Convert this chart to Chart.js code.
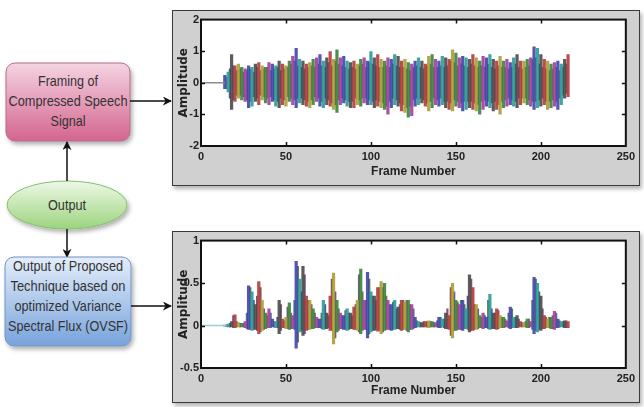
<!DOCTYPE html>
<html>
<head>
<meta charset="utf-8">
<script src="https://cdn.jsdelivr.net/npm/chart.js@4.4.0/dist/chart.umd.min.js"></script>
<style>
body { margin: 0; background: #fff; width: 644px; height: 407px; overflow: hidden; position: relative; }
.panel { position: absolute; background: #d0d0d0; border: 1px solid #3a3a3a; box-sizing: border-box; box-shadow: 2px 3px 4px rgba(0,0,0,0.3); }
.panel canvas { position: absolute; left: 0; top: 0; }
svg { position: absolute; left: 0; top: 0; }
svg text { font-family: "Liberation Sans Narrow", "Liberation Sans", Arial, sans-serif; font-size: 15px; fill: #333; text-anchor: middle; }
</style>
</head>
<body>

<svg width="172" height="407" viewBox="0 0 172 407">
  <defs>
    <linearGradient id="gPink" x1="0" y1="0" x2="0" y2="1">
      <stop offset="0" stop-color="#f5d4e2"/><stop offset="1" stop-color="#d4658e"/>
    </linearGradient>
    <linearGradient id="gGreen" x1="0" y1="0" x2="0" y2="1">
      <stop offset="0" stop-color="#eef8e6"/><stop offset="1" stop-color="#9cd47e"/>
    </linearGradient>
    <linearGradient id="gBlue" x1="0" y1="0" x2="0" y2="1">
      <stop offset="0" stop-color="#e4eefa"/><stop offset="1" stop-color="#78a3dc"/>
    </linearGradient>
    <filter id="sh" x="-10%" y="-10%" width="130%" height="140%">
      <feDropShadow dx="2" dy="3" stdDeviation="2" flood-color="#000" flood-opacity="0.3"/>
    </filter>
    <marker id="ah" viewBox="0 0 10 10" refX="9" refY="5" markerWidth="6" markerHeight="6" orient="auto">
      <path d="M0,0 L10,5 L0,10 L3,5 z" fill="#111"/>
    </marker>
  </defs>

  <rect x="6" y="63" width="124" height="78" rx="9" fill="url(#gPink)" stroke="#b26a8a" filter="url(#sh)"/>
  <text x="68" y="86" textLength="60" lengthAdjust="spacingAndGlyphs">Framing of</text>
  <text x="68" y="106" textLength="119" lengthAdjust="spacingAndGlyphs">Compressed Speech</text>
  <text x="68" y="126" textLength="35" lengthAdjust="spacingAndGlyphs">Signal</text>
  <line x1="130" y1="101" x2="171" y2="101" stroke="#111" stroke-width="1.5" marker-end="url(#ah)"/>

  <ellipse cx="67" cy="205" rx="60" ry="24" fill="url(#gGreen)" stroke="#86bf6e" filter="url(#sh)"/>
  <text x="67" y="210" textLength="38" lengthAdjust="spacingAndGlyphs">Output</text>
  <line x1="67" y1="181" x2="67" y2="142" stroke="#111" stroke-width="1.5" marker-end="url(#ah)"/>
  <line x1="67" y1="229" x2="67" y2="257" stroke="#111" stroke-width="1.5" marker-end="url(#ah)"/>

  <rect x="5" y="257" width="126" height="89" rx="9" fill="url(#gBlue)" stroke="#6f93c6" filter="url(#sh)"/>
  <text x="68" y="271" textLength="110" lengthAdjust="spacingAndGlyphs">Output of Proposed</text>
  <text x="68" y="291" textLength="115" lengthAdjust="spacingAndGlyphs">Technique based on</text>
  <text x="68" y="311" textLength="107" lengthAdjust="spacingAndGlyphs">optimized Variance</text>
  <text x="68" y="331" textLength="120" lengthAdjust="spacingAndGlyphs">Spectral Flux (OVSF)</text>
  <line x1="131" y1="306" x2="171" y2="306" stroke="#111" stroke-width="1.5" marker-end="url(#ah)"/>
</svg>

<div class="panel" style="left:172px;top:10px;width:468px;height:176px"><canvas id="c1" width="466" height="174"></canvas></div>
<div class="panel" style="left:172px;top:231px;width:468px;height:172px"><canvas id="c2" width="466" height="170"></canvas></div>

<script>
// envelopes read at even frames, denser inner part at odd frames
const evenFrames = [];
for (let f = 14; f <= 216; f += 2) evenFrames.push(f);
const oddFrames = [];
for (let f = 15; f <= 215; f += 2) oddFrames.push(f);

// compressed speech frames: outer envelope (even frames)
const topUpper = [0.25,0.35,0.9,0.55,0.6,0.5,0.45,0.55,0.5,0.6,0.65,0.55,0.5,0.65,0.6,0.55,0.7,0.6,0.55,0.7,
  0.85,1.1,0.75,0.7,0.6,0.65,0.75,0.8,0.9,0.7,0.8,1.0,0.75,1.05,0.8,0.85,0.7,0.65,0.7,0.6,
  0.75,0.8,0.7,1.0,0.8,0.9,0.75,0.7,0.8,0.75,0.9,0.85,0.7,0.75,0.65,0.6,0.7,0.8,0.7,0.6,
  0.85,0.9,0.75,0.7,0.85,0.8,0.75,1.05,0.95,0.8,0.85,0.8,0.75,0.9,0.8,0.7,0.85,0.8,0.9,0.75,
  0.7,0.85,0.7,0.75,0.65,0.8,0.9,0.7,0.7,0.75,0.8,1.15,1.1,0.9,0.75,0.7,0.6,0.65,0.7,0.6,
  0.75,0.9];
const topLower = [-0.2,-0.3,-0.85,-0.6,-0.5,-0.55,-0.6,-0.8,-0.75,-0.6,-0.7,-0.55,-0.65,-0.7,-0.6,-0.75,-0.8,-0.7,-0.75,-0.6,
  -0.7,-0.8,-0.65,-0.7,-0.75,-0.8,-0.7,-0.6,-0.75,-0.8,-0.7,-0.75,-0.85,-0.95,-0.7,-0.65,-0.75,-0.8,-0.8,-0.7,
  -0.75,-0.65,-0.7,-0.7,-0.8,-0.75,-0.8,-0.85,-1.0,-0.8,-0.7,-0.75,-0.9,-0.95,-1.1,-1.05,-0.75,-0.7,-0.65,-0.75,
  -0.9,-0.8,-0.7,-0.75,-0.7,-0.8,-0.85,-0.9,-0.75,-0.8,-0.9,-0.85,-0.8,-0.85,-0.9,-1.0,-0.85,-0.75,-0.8,-0.9,
  -0.85,-1.0,-0.8,-0.75,-0.7,-0.75,-0.8,-0.7,-0.65,-0.7,-0.75,-0.85,-0.8,-0.75,-0.7,-0.85,-0.8,-0.75,-0.85,-0.7,
  -0.5,-0.45];
// compressed speech frames: dense inner band (odd frames)
const topCoreUpper = [0.2,0.45,0.55,0.4,0.45,0.35,0.4,0.45,0.35,0.5,0.4,0.45,0.5,0.4,0.45,0.5,0.4,0.45,0.5,0.6,
  0.7,0.55,0.5,0.45,0.5,0.55,0.5,0.6,0.55,0.5,0.65,0.55,0.7,0.6,0.55,0.5,0.45,0.5,0.45,0.55,
  0.6,0.5,0.65,0.6,0.55,0.5,0.5,0.55,0.5,0.6,0.55,0.5,0.5,0.45,0.4,0.5,0.55,0.5,0.45,0.55,
  0.6,0.5,0.5,0.55,0.5,0.55,0.7,0.65,0.55,0.6,0.55,0.5,0.6,0.55,0.5,0.55,0.5,0.6,0.5,0.45,
  0.55,0.5,0.5,0.45,0.5,0.6,0.5,0.45,0.5,0.55,0.75,0.8,0.6,0.5,0.45,0.4,0.45,0.5,0.4,0.5,
  0.6];
const topCoreLower = [-0.2,-0.5,-0.55,-0.4,-0.4,-0.45,-0.55,-0.6,-0.45,-0.5,-0.4,-0.45,-0.5,-0.45,-0.55,-0.6,-0.5,-0.55,-0.45,-0.5,
  -0.55,-0.5,-0.5,-0.55,-0.6,-0.55,-0.45,-0.5,-0.6,-0.5,-0.55,-0.65,-0.7,-0.55,-0.5,-0.55,-0.6,-0.6,-0.5,-0.55,
  -0.5,-0.5,-0.55,-0.6,-0.55,-0.6,-0.65,-0.75,-0.6,-0.5,-0.55,-0.65,-0.7,-0.8,-0.75,-0.55,-0.5,-0.5,-0.55,-0.65,
  -0.6,-0.5,-0.55,-0.5,-0.6,-0.6,-0.65,-0.55,-0.6,-0.65,-0.6,-0.6,-0.6,-0.65,-0.7,-0.6,-0.55,-0.6,-0.65,-0.6,
  -0.7,-0.6,-0.55,-0.5,-0.55,-0.6,-0.5,-0.5,-0.5,-0.55,-0.6,-0.6,-0.55,-0.5,-0.6,-0.6,-0.55,-0.6,-0.5,-0.4,
  -0.35];

// OVSF output: outer envelope (even frames)
const botUpper = [0.01,0.02,0.05,0.13,0.04,0.03,0.05,0.47,0.4,0.25,0.52,0.3,0.15,0.2,0.08,0.05,0.3,0.08,0.1,0.27,
  0.12,0.76,0.55,0.7,0.35,0.3,0.2,0.1,0.08,0.3,0.15,0.35,0.62,0.3,0.15,0.12,0.2,0.15,0.22,0.3,
  0.67,0.3,0.63,0.4,0.35,0.45,0.52,0.5,0.3,0.25,0.3,0.22,0.3,0.28,0.3,0.25,0.1,0.05,0.04,0.05,
  0.06,0.05,0.04,0.1,0.08,0.15,0.12,0.5,0.3,0.25,0.3,0.2,0.6,0.45,0.25,0.12,0.15,0.1,0.37,0.15,
  0.2,0.12,0.1,0.06,0.22,0.1,0.12,0.05,0.04,0.08,0.05,0.57,0.5,0.35,0.12,0.08,0.1,0.17,0.08,0.05,
  0.06,0.05];
const botLower = [-0.01,-0.02,-0.02,-0.03,-0.02,-0.02,-0.03,-0.05,-0.06,-0.05,-0.1,-0.06,-0.04,-0.03,-0.02,-0.03,-0.1,-0.03,-0.04,-0.05,
  -0.04,-0.27,-0.08,-0.12,-0.06,-0.05,-0.04,-0.03,-0.03,-0.05,-0.04,-0.06,-0.22,-0.08,-0.04,-0.05,-0.06,-0.04,-0.05,-0.06,
  -0.1,-0.05,-0.15,-0.08,-0.06,-0.07,-0.1,-0.06,-0.05,-0.06,-0.05,-0.04,-0.06,-0.05,-0.08,-0.05,-0.03,-0.02,-0.02,-0.02,
  -0.03,-0.02,-0.02,-0.03,-0.02,-0.04,-0.05,-0.15,-0.06,-0.05,-0.06,-0.04,-0.08,-0.06,-0.05,-0.03,-0.04,-0.03,-0.05,-0.04,
  -0.05,-0.03,-0.03,-0.02,-0.04,-0.03,-0.03,-0.02,-0.02,-0.03,-0.02,-0.1,-0.08,-0.06,-0.04,-0.03,-0.04,-0.05,-0.03,-0.02,
  -0.03,-0.03];
// OVSF output: inner part (odd frames)
const botCoreUpper = [0.01,0.03,0.12,0.05,0.03,0.03,0.15,0.45,0.3,0.35,0.45,0.2,0.12,0.15,0.05,0.1,0.25,0.06,0.22,0.15,
  0.3,0.7,0.4,0.6,0.3,0.25,0.15,0.08,0.15,0.25,0.12,0.55,0.4,0.2,0.12,0.18,0.15,0.12,0.25,0.6,
  0.4,0.3,0.55,0.35,0.3,0.45,0.45,0.35,0.25,0.28,0.2,0.25,0.3,0.3,0.25,0.2,0.06,0.04,0.05,0.05,
  0.05,0.04,0.06,0.1,0.08,0.2,0.45,0.4,0.28,0.3,0.25,0.35,0.55,0.25,0.2,0.1,0.12,0.3,0.2,0.15,
  0.18,0.1,0.08,0.15,0.2,0.1,0.08,0.04,0.05,0.08,0.3,0.55,0.4,0.2,0.1,0.1,0.12,0.15,0.06,0.05,
  0.06];
const botCoreLower = [-0.01,-0.02,-0.03,-0.02,-0.02,-0.02,-0.04,-0.05,-0.05,-0.06,-0.08,-0.05,-0.03,-0.03,-0.02,-0.03,-0.06,-0.03,-0.04,-0.04,
  -0.05,-0.2,-0.06,-0.1,-0.05,-0.04,-0.03,-0.03,-0.04,-0.04,-0.03,-0.06,-0.15,-0.06,-0.04,-0.05,-0.05,-0.04,-0.05,-0.08,
  -0.06,-0.05,-0.1,-0.06,-0.05,-0.06,-0.08,-0.05,-0.05,-0.05,-0.04,-0.05,-0.05,-0.06,-0.05,-0.04,-0.02,-0.02,-0.02,-0.02,
  -0.02,-0.02,-0.02,-0.03,-0.03,-0.04,-0.12,-0.06,-0.05,-0.05,-0.04,-0.05,-0.06,-0.05,-0.04,-0.03,-0.03,-0.04,-0.04,-0.04,
  -0.04,-0.03,-0.02,-0.03,-0.03,-0.03,-0.02,-0.02,-0.02,-0.03,-0.05,-0.06,-0.05,-0.04,-0.03,-0.03,-0.04,-0.03,-0.02,-0.02,
  -0.03];

// silent lead-in before the first frame
const topLeadIn = [0, 14];
const botLeadIn = [0, 15];

const xTicks = [0, 50, 100, 150, 200, 250];
const topYRange = [-2, 2, 1];
const botYRange = [-0.5, 1, 0.5];

const outerColors = ['#4444a8', '#3a843a', '#b03c3c', '#2a9a9a', '#a23ca2', '#aa9c34', '#4a4a4a'];
const coreColors = ['#2e2e72', '#4a3560', '#2f5a3c', '#6e3030', '#235a72', '#5e2c5e', '#56562e'];

// white plot area, black box and inward ticks on all sides (matlab look)
const matlabFrame = {
    id: 'matlabFrame',
    beforeDatasetsDraw(chart) {
        const a = chart.chartArea, ctx = chart.ctx;
        ctx.save();
        ctx.fillStyle = '#fff';
        ctx.fillRect(a.left, a.top, a.right - a.left, a.bottom - a.top);
        ctx.restore();
    },
    afterDatasetsDraw(chart) {
        const a = chart.chartArea, ctx = chart.ctx;
        const xs = chart.scales.x, ys = chart.scales.y;
        ctx.save();
        ctx.strokeStyle = '#111';
        ctx.lineWidth = 1.5;
        ctx.beginPath();
        xs.ticks.slice(1, -1).forEach(t => {
            const px = Math.round(xs.getPixelForValue(t.value)) + 0.5;
            ctx.moveTo(px, a.bottom); ctx.lineTo(px, a.bottom - 4);
            ctx.moveTo(px, a.top); ctx.lineTo(px, a.top + 4);
        });
        ys.ticks.slice(1, -1).forEach(t => {
            const py = Math.round(ys.getPixelForValue(t.value)) + 0.5;
            ctx.moveTo(a.left, py); ctx.lineTo(a.left + 4, py);
            ctx.moveTo(a.right, py); ctx.lineTo(a.right - 4, py);
        });
        ctx.stroke();
        ctx.lineWidth = 2;
        ctx.strokeRect(a.left, a.top, a.right - a.left, a.bottom - a.top);
        ctx.restore();
    }
};

const tickFont = { family: '"Liberation Sans Narrow", "Liberation Sans", Arial', size: 11, weight: 'bold' };

function makeChart(id, upper, lower, coreUp, coreLo, leadIn, leadColor, yRange, axisH, padTop, titlePad) {
    new Chart(document.getElementById(id), {
        type: 'bar',
        data: {
            datasets: [
                {
                    type: 'line',
                    data: leadIn.map(x => ({ x: x, y: 0 })),
                    borderColor: leadColor,
                    borderWidth: 1.5,
                    pointRadius: 0
                },
                {
                    data: evenFrames.map((f, i) => ({ x: f, y: [lower[i], upper[i]] })),
                    backgroundColor: evenFrames.map((f, i) => outerColors[(i * 3) % 7] + 'e6'),
                    barPercentage: 1.9,
                    categoryPercentage: 1,
                    grouped: false
                },
                {
                    data: oddFrames.map((f, i) => ({ x: f, y: [coreLo[i], coreUp[i]] })),
                    backgroundColor: oddFrames.map((f, i) => coreColors[(i * 5 + 2) % 7] + 'd0'),
                    barPercentage: 1.3,
                    categoryPercentage: 1,
                    grouped: false
                }
            ]
        },
        options: {
            responsive: false,
            animation: false,
            layout: { padding: { top: padTop, right: 9, left: 0, bottom: 0 } },
            scales: {
                x: {
                    type: 'linear',
                    offset: false,
                    min: 0, max: 250,
                    afterBuildTicks: s => { s.ticks = xTicks.map(v => ({ value: v })); },
                    afterFit: s => { s.height = axisH; },
                    grid: { display: false, drawTicks: false },
                    border: { display: false },
                    ticks: { padding: 4, color: '#222', maxRotation: 0, font: tickFont },
                    title: { display: true, text: 'Frame Number', color: '#222', padding: { top: 0, bottom: titlePad },
                        font: { family: '"Liberation Sans Narrow", "Liberation Sans", Arial', size: 12, weight: 'bold' } }
                },
                y: {
                    min: yRange[0], max: yRange[1],
                    afterFit: s => { s.width = 28; },
                    grid: { display: false, drawTicks: false },
                    border: { display: false },
                    ticks: { stepSize: yRange[2], padding: 2, color: '#222', font: tickFont,
                        callback: v => String(Math.round(v * 100) / 100) },
                    title: { display: true, text: 'Amplitude', color: '#222', padding: { top: 4, bottom: 0 },
                        font: { family: '"DejaVu Sans"', size: 12, weight: 'bold' } }
                }
            },
            plugins: { legend: { display: false }, tooltip: { enabled: false } }
        },
        plugins: [matlabFrame]
    });
}

makeChart('c1', topUpper, topLower, topCoreUpper, topCoreLower, topLeadIn, '#8c8c8c', topYRange, 39, 5, 6);
makeChart('c2', botUpper, botLower, botCoreUpper, botCoreLower, botLeadIn, '#9ccfcf', botYRange, 34, 6, 4);
</script>
</body>
</html>
